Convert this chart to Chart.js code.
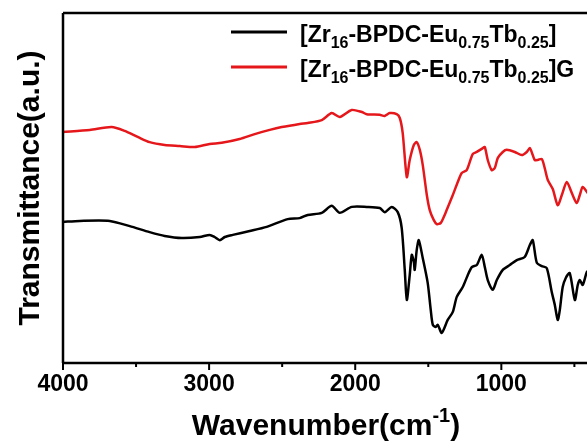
<!DOCTYPE html>
<html>
<head>
<meta charset="utf-8">
<script src="https://cdn.jsdelivr.net/npm/chart.js@4.4.0/dist/chart.umd.min.js"></script>
<style>
  html, body { margin: 0; padding: 0; background: #fff; overflow: hidden; }
  #wrap { width: 600px; height: 441px; }
</style>
</head>
<body>
<div id="wrap"><canvas id="ftir" width="600" height="441"></canvas></div>
<script>
// FTIR spectra, wavenumber (cm-1) vs transmittance (a.u., offset)
const redWave = [4000,3817,3667,3578,3489,3407,3304,3201,3099,2996,2914,2791,2688,2585,2503,2380,2325,2229,2161,2106,2024,1955,1921,1832,1798,1764,1716,1695,1675,1647,1627,1599,1579,1558,1538,1510,1490,1463,1442,1415,1394,1374,1332,1298,1271,1237,1196,1168,1127,1113,1093,1066,1045,1024,990,963,908,860,826,805,785,771,751,723,703,682,648,614,586,552,518,484,463,443,415,400];
const redT = [66.0,66.6,67.4,66.3,64.6,63.1,62.3,62.0,61.7,62.6,62.9,64.0,65.4,66.6,67.4,68.3,68.6,69.4,71.4,70.3,72.3,71.7,71.1,70.9,70.6,71.4,71.1,70.0,65.7,53.1,58.0,62.3,63.1,60.9,56.6,48.0,43.7,40.9,39.7,40.0,41.7,43.7,48.0,51.7,54.3,55.1,59.7,60.3,61.4,61.7,58.0,55.1,55.7,58.6,60.3,60.9,60.3,59.4,60.3,61.4,59.4,58.0,58.0,58.3,55.7,52.3,49.7,45.1,48.0,51.7,48.6,45.7,48.0,50.3,48.9,48.0];

const blackWave = [4000,3886,3680,3543,3407,3304,3187,3064,2996,2962,2927,2893,2838,2722,2606,2462,2380,2325,2229,2161,2106,2024,1921,1832,1798,1750,1709,1682,1661,1647,1627,1613,1599,1593,1579,1565,1538,1504,1483,1469,1449,1435,1408,1367,1332,1305,1264,1230,1202,1168,1134,1113,1093,1059,1031,990,942,894,840,805,785,757,723,689,655,634,614,600,580,559,532,497,477,463,443,415,400];
const blackT = [40.3,40.6,40.6,39.1,37.4,36.3,35.7,36.0,36.6,36.0,35.1,36.0,36.6,37.7,38.9,41.1,41.4,42.3,42.9,44.9,42.9,44.6,44.6,44.3,43.1,44.6,43.1,38.6,26.6,18.0,25.1,30.9,28.9,26.6,32.3,35.1,30.0,22.9,15.1,10.9,10.3,10.9,8.6,12.3,14.6,18.9,21.7,25.1,27.4,28.0,30.9,27.4,23.7,20.9,23.7,26.6,28.0,29.4,30.3,33.7,35.1,28.6,27.7,27.1,20.3,16.6,12.3,15.1,21.7,24.3,25.7,18.0,22.3,23.7,22.3,26.0,26.6];

const majorTicks = [4000, 3000, 2000, 1000];
const minorTicks = [3500, 2500, 1500, 500];

// legend labels, split in [text, 'sub'|''] pieces
const blackLabel = [['[Zr',''],['16','sub'],['-BPDC-Eu',''],['0.75','sub'],['Tb',''],['0.25','sub'],[']','']];
const redLabel = [['[Zr',''],['16','sub'],['-BPDC-Eu',''],['0.75','sub'],['Tb',''],['0.25','sub'],[']G','']];
const xTitle = [['Wavenumber(cm',''],['-1','sup'],[')','']];
const yTitle = 'Transmittance(a.u.)';

const RED = '#e5171b';
const FONT = '"Liberation Sans", Arial, sans-serif';

function toPoints(xs, ys) {
    return xs.map(function(x, i) { return { x: x, y: ys[i] }; });
}
function plainText(parts) { return parts.map(function(p){ return p[0]; }).join(''); }

// draws text with sub/superscript pieces, returns width
function drawRich(ctx, parts, x, y, size, align) {
    const small = Math.round(size * 0.68);
    let total = 0;
    const widths = parts.map(function(p) {
        ctx.font = 'bold ' + (p[1] ? small : size) + 'px ' + FONT;
        const w = ctx.measureText(p[0]).width;
        total += w;
        return w;
    });
    let cx = align === 'center' ? x - total / 2 : x;
    ctx.textAlign = 'left';
    ctx.textBaseline = 'alphabetic';
    parts.forEach(function(p, i) {
        ctx.font = 'bold ' + (p[1] ? small : size) + 'px ' + FONT;
        let dy = 0;
        if (p[1] === 'sub') dy = size * 0.24;
        if (p[1] === 'sup') dy = -size * 0.42;
        ctx.fillText(p[0], cx, y + dy);
        cx += widths[i];
    });
    return total;
}

const decorPlugin = {
    id: 'decor',
    afterDraw: function(chart) {
        const ctx = chart.ctx;
        const a = chart.chartArea;
        const xs = chart.scales.x;
        ctx.save();
        ctx.strokeStyle = '#000';
        ctx.fillStyle = '#000';
        ctx.lineWidth = 2.5;
        // frame
        ctx.beginPath();
        ctx.moveTo(a.left, a.top); ctx.lineTo(a.right, a.top);
        ctx.moveTo(a.left, a.bottom); ctx.lineTo(a.right, a.bottom);
        ctx.moveTo(a.left, a.top); ctx.lineTo(a.left, a.bottom);
        ctx.moveTo(a.right, a.top); ctx.lineTo(a.right, a.bottom);
        ctx.stroke();
        // ticks outward
        ctx.lineWidth = 2;
        ctx.beginPath();
        majorTicks.forEach(function(v) {
            const px = xs.getPixelForValue(v);
            ctx.moveTo(px, a.bottom); ctx.lineTo(px, a.bottom + 7);
        });
        minorTicks.forEach(function(v) {
            const px = xs.getPixelForValue(v);
            ctx.moveTo(px, a.bottom); ctx.lineTo(px, a.bottom + 4);
        });
        ctx.stroke();

        // legend
        const rows = [
            { color: '#000', parts: blackLabel, y: 32 },
            { color: RED, parts: redLabel, y: 67 }
        ];
        rows.forEach(function(r) {
            ctx.strokeStyle = r.color;
            ctx.lineWidth = 3;
            ctx.beginPath();
            ctx.moveTo(231, r.y); ctx.lineTo(287, r.y);
            ctx.stroke();
            ctx.fillStyle = '#000';
            drawRich(ctx, r.parts, 300, r.y + 10, 23, 'left');
        });

        // axis titles
        drawRich(ctx, xTitle, (a.left + a.right) / 2, 435, 30, 'center');
        ctx.save();
        ctx.translate(39, (a.top + a.bottom) / 2);
        ctx.rotate(-Math.PI / 2);
        ctx.font = 'bold 30px ' + FONT;
        ctx.textAlign = 'center';
        ctx.textBaseline = 'alphabetic';
        ctx.fillText(yTitle, 0, 0);
        ctx.restore();
        ctx.restore();
    }
};

document.addEventListener('DOMContentLoaded', function() {
    const canvas = document.getElementById('ftir');
    new Chart(canvas.getContext('2d'), {
        type: 'line',
        data: {
            datasets: [{
                label: plainText(blackLabel),
                data: toPoints(blackWave, blackT),
                borderColor: '#000',
                borderWidth: 2.5,
                pointRadius: 0,
                tension: 0.25,
                fill: false
            }, {
                label: plainText(redLabel),
                data: toPoints(redWave, redT),
                borderColor: RED,
                borderWidth: 2.5,
                pointRadius: 0,
                tension: 0.25,
                fill: false
            }]
        },
        options: {
            responsive: false,
            animation: false,
            events: [],
            layout: { padding: { left: 63, top: 13, right: 11, bottom: 0 } },
            plugins: {
                legend: { display: false },
                tooltip: { enabled: false }
            },
            scales: {
                x: {
                    type: 'linear',
                    reverse: true,
                    min: 400,
                    max: 4000,
                    afterBuildTicks: function(scale) {
                        scale.ticks = majorTicks.map(function(v) { return { value: v }; });
                    },
                    afterFit: function(scale) { scale.height = 78; },
                    grid: { display: false, drawTicks: false },
                    border: { display: false },
                    ticks: {
                        autoSkip: false,
                        maxRotation: 0,
                        padding: 8,
                        color: '#000',
                        font: { family: FONT, size: 23, weight: 'bold' },
                        callback: function(value) { return String(value); }
                    }
                },
                y: {
                    display: false,
                    min: 0,
                    max: 100
                }
            }
        },
        plugins: [decorPlugin]
    });
});
</script>
</body>
</html>
